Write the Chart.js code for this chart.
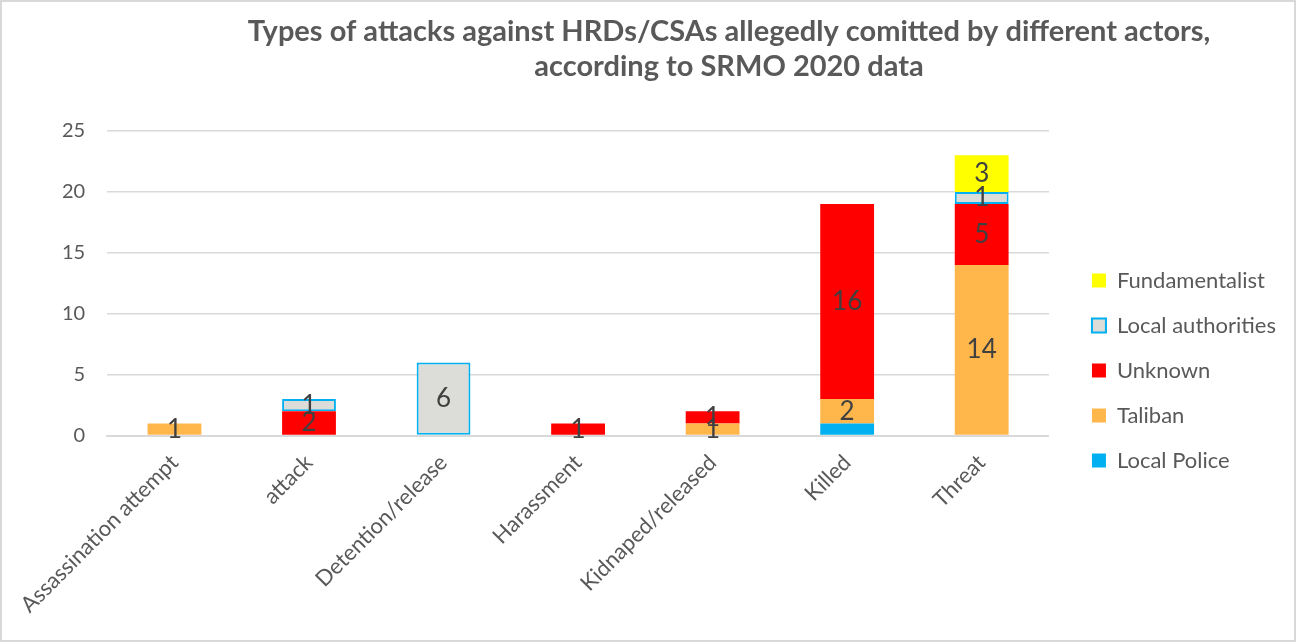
<!DOCTYPE html>
<html>
<head>
<meta charset="utf-8">
<script src="https://cdn.jsdelivr.net/npm/chart.js@4"></script>
<style>
  html, body { margin: 0; padding: 0; background: #fff; }
  #wrap { width: 1296px; height: 642px; position: relative; }
  canvas { outline: 2px solid #d9d9d9; outline-offset: -2px; }
</style>
</head>
<body>
<div id="wrap"><canvas id="attacks-by-actor"></canvas></div>
<script>
const categories = ["Assassination attempt", "attack", "Detention/release", "Harassment", "Kidnaped/released", "Killed", "Threat"];
const localPolice = [null, null, null, null, null, 1, null];
const taliban = [1, null, null, null, 1, 2, 14];
const unknown = [null, 2, null, 1, 1, 16, 5];
const localAuthorities = [null, 1, 6, null, null, null, 1];
const fundamentalist = [null, null, null, null, null, null, 3];
const yTicks = [0, 5, 10, 15, 20, 25];

const titleLines = [
  "Types of attacks against HRDs/CSAs allegedly comitted by different actors,",
  "according to SRMO 2020 data",
];

const FONT = "Lato, 'Open Sans', sans-serif";
const LEGEND_GAP = 20;
const LEGEND_RAISE = 7;

// writes the value in the middle of each segment
const segmentLabels = {
  id: "segmentLabels",
  afterDatasetsDraw(chart) {
    const ctx = chart.ctx;
    ctx.save();
    ctx.font = "26px " + FONT;
    ctx.fillStyle = "#404040";
    ctx.textAlign = "center";
    ctx.textBaseline = "middle";
    chart.data.datasets.forEach((ds, i) => {
      if (ds.hideLabels) return;
      chart.getDatasetMeta(i).data.forEach((bar, j) => {
        const v = ds.data[j];
        if (v == null) return;
        const y = (bar.y + bar.base) / 2;
        ctx.fillText(String(v), bar.x, y);
      });
    });
    ctx.restore();
  },
};

const chartTitle = {
  id: "chartTitle",
  afterDraw(chart) {
    const ctx = chart.ctx;
    ctx.save();
    ctx.font = "bold 29px " + FONT;
    ctx.fillStyle = "#595959";
    ctx.textAlign = "center";
    ctx.textBaseline = "middle";
    ctx.fillText(titleLines[0], 729, 32);
    ctx.fillText(titleLines[1], 729, 67);
    ctx.restore();
  },
};

// leaves some extra room between the plot and the legend
const legendGap = {
  id: "legendGap",
  beforeLayout(chart) {
    const lg = chart.legend;
    if (!lg || lg._gapWrapped) return;
    const fit = lg.fit;
    lg.fit = function () {
      fit.call(this);
      this.width += LEGEND_GAP;
    };
    lg._gapWrapped = true;
  },
  afterLayout(chart) {
    const lg = chart.legend;
    if (!lg) return;
    lg.left += LEGEND_GAP;
    lg.top -= LEGEND_RAISE;
    lg.bottom -= LEGEND_RAISE;
  },
};

const ctx = document.getElementById("attacks-by-actor");

new Chart(ctx, {
  type: "bar",
  data: {
    labels: categories,
    datasets: [
      { label: "Local Police", data: localPolice, backgroundColor: "#00b0f0", hideLabels: true },
      { label: "Taliban", data: taliban, backgroundColor: "#ffb74c" },
      { label: "Unknown", data: unknown, backgroundColor: "#ff0000" },
      {
        label: "Local authorities",
        data: localAuthorities,
        backgroundColor: "#dcdcd8",
        borderColor: "#00b0f0",
        borderWidth: 2,
        borderSkipped: false,
      },
      { label: "Fundamentalist", data: fundamentalist, backgroundColor: "#ffff00" },
    ],
  },
  options: {
    responsive: true,
    maintainAspectRatio: false,
    animation: false,
    datasets: {
      bar: { barPercentage: 0.4, categoryPercentage: 1 },
    },
    layout: {
      padding: { top: 131, left: 40, right: 10, bottom: 18 },
    },
    plugins: {
      legend: {
        position: "right",
        reverse: true,
        labels: {
          boxWidth: 14,
          boxHeight: 14,
          padding: 23,
          color: "#595959",
          font: { family: FONT, size: 22 },
        },
      },
      tooltip: { enabled: false },
    },
    scales: {
      x: {
        stacked: true,
        grid: { display: false },
        border: { color: "#d9d9d9", width: 2 },
        ticks: {
          color: "#595959",
          font: { family: FONT, size: 22 },
          minRotation: 45,
          maxRotation: 45,
          padding: 6,
        },
      },
      y: {
        stacked: true,
        min: 0,
        max: 25,
        afterBuildTicks: (axis) => {
          axis.ticks = yTicks.map((v) => ({ value: v }));
        },
        grid: { color: "#d9d9d9", lineWidth: 1.5, drawTicks: false },
        border: { display: false },
        ticks: {
          color: "#595959",
          font: { family: FONT, size: 20 },
          padding: 22,
        },
      },
    },
  },
  plugins: [segmentLabels, chartTitle, legendGap],
});
</script>
</body>
</html>
